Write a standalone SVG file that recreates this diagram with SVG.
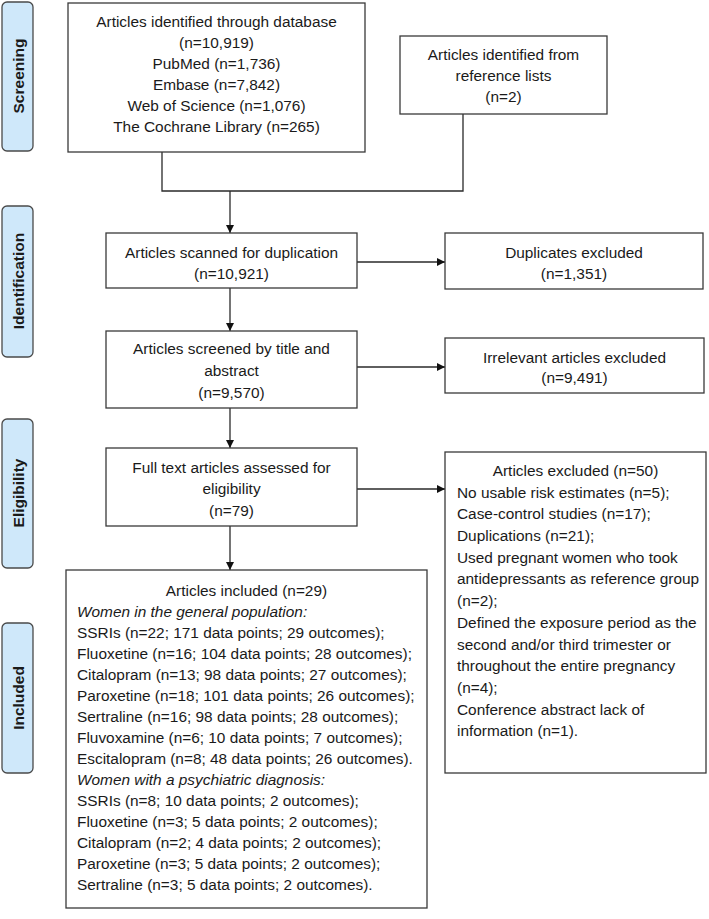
<svg xmlns="http://www.w3.org/2000/svg" width="709" height="919" viewBox="0 0 709 919">
<defs>
<style>
.bg{fill:#ffffff}
.box{fill:#ffffff;stroke:#3a3a3a;stroke-width:1.3}
.side{fill:#cfe8fa;stroke:#4a4a4a;stroke-width:1.3}
.st{font-family:"Liberation Sans",Arial,sans-serif;font-weight:bold;font-size:15.5px;fill:#1a1a1a;text-anchor:middle;dominant-baseline:central}
.t{font-family:"Liberation Sans",Arial,sans-serif;font-size:15.4px;fill:#1a1a1a;dominant-baseline:central}
.c{text-anchor:middle}
.i{font-style:italic}
.ln{fill:none;stroke:#2a2a2a;stroke-width:1.3}
</style>
<marker id="ah" viewBox="0 0 10 10" refX="10" refY="5" markerWidth="8" markerHeight="8" markerUnits="userSpaceOnUse" orient="auto">
<path d="M0,0 L10,5 L0,10 z" fill="#111"/>
</marker>
</defs>
<rect class="bg" x="0" y="0" width="709" height="919"/>

<g id="phase-screening">
<rect class="side" x="2" y="2" width="31" height="149" rx="5"/>
<text class="st" transform="translate(18,76) rotate(-90)">Screening</text>
</g>
<g id="phase-identification">
<rect class="side" x="2" y="206" width="31" height="151" rx="5"/>
<text class="st" transform="translate(18,281) rotate(-90)">Identification</text>
</g>
<g id="phase-eligibility">
<rect class="side" x="2" y="419" width="31" height="149" rx="5"/>
<text class="st" transform="translate(18,493) rotate(-90)">Eligibility</text>
</g>
<g id="phase-included">
<rect class="side" x="2" y="623" width="31" height="150" rx="5"/>
<text class="st" transform="translate(18,698) rotate(-90)">Included</text>
</g>

<g id="connectors">
<polyline class="ln" points="162,152 162,191 463,191 463,114"/>
<line class="ln" x1="230" y1="191" x2="230" y2="233" marker-end="url(#ah)"/>
<line class="ln" x1="230" y1="288" x2="230" y2="331" marker-end="url(#ah)"/>
<line class="ln" x1="357" y1="262" x2="445" y2="262" marker-end="url(#ah)"/>
<line class="ln" x1="357" y1="367" x2="445" y2="367" marker-end="url(#ah)"/>
<line class="ln" x1="230" y1="408" x2="230" y2="448" marker-end="url(#ah)"/>
<line class="ln" x1="357" y1="489" x2="445" y2="489" marker-end="url(#ah)"/>
<line class="ln" x1="230" y1="526" x2="230" y2="570" marker-end="url(#ah)"/>
</g>

<g id="db-search">
<rect class="box" x="68" y="3" width="297" height="149"/>
<text class="t c" x="216.5" y="21">Articles identified through database</text>
<text class="t c" x="216.5" y="42">(n=10,919)</text>
<text class="t c" x="216.5" y="63">PubMed (n=1,736)</text>
<text class="t c" x="216.5" y="84">Embase (n=7,842)</text>
<text class="t c" x="216.5" y="105">Web of Science (n=1,076)</text>
<text class="t c" x="216.5" y="126">The Cochrane Library (n=265)</text>
</g>

<g id="ref-lists">
<rect class="box" x="400" y="36" width="207" height="78"/>
<text class="t c" x="503.5" y="54">Articles identified from</text>
<text class="t c" x="503.5" y="75">reference lists</text>
<text class="t c" x="503.5" y="96">(n=2)</text>
</g>

<g id="scanned">
<rect class="box" x="106" y="233" width="251" height="55"/>
<text class="t c" x="231.5" y="252">Articles scanned for duplication</text>
<text class="t c" x="231.5" y="273">(n=10,921)</text>
</g>

<g id="duplicates">
<rect class="box" x="445" y="233" width="258" height="56"/>
<text class="t c" x="574" y="252">Duplicates excluded</text>
<text class="t c" x="574" y="273">(n=1,351)</text>
</g>

<g id="screened">
<rect class="box" x="106" y="331" width="251" height="77"/>
<text class="t c" x="231.5" y="348">Articles screened by title and</text>
<text class="t c" x="231.5" y="370">abstract</text>
<text class="t c" x="231.5" y="392">(n=9,570)</text>
</g>

<g id="irrelevant">
<rect class="box" x="445" y="338" width="259" height="55"/>
<text class="t c" x="574.5" y="357">Irrelevant articles excluded</text>
<text class="t c" x="574.5" y="377">(n=9,491)</text>
</g>

<g id="fulltext">
<rect class="box" x="106" y="448" width="251" height="78"/>
<text class="t c" x="231.5" y="467">Full text articles assessed for</text>
<text class="t c" x="231.5" y="488">eligibility</text>
<text class="t c" x="231.5" y="510">(n=79)</text>
</g>

<g id="excluded">
<rect class="box" x="445" y="452" width="261" height="321"/>
<text class="t c" x="575.5" y="470">Articles excluded (n=50)</text>
<text class="t" x="457" y="492">No usable risk estimates (n=5);</text>
<text class="t" x="457" y="513">Case-control studies (n=17);</text>
<text class="t" x="457" y="535">Duplications (n=21);</text>
<text class="t" x="457" y="557">Used pregnant women who took</text>
<text class="t" x="457" y="578">antidepressants as reference group</text>
<text class="t" x="457" y="600">(n=2);</text>
<text class="t" x="457" y="622">Defined the exposure period as the</text>
<text class="t" x="457" y="644">second and/or third trimester or</text>
<text class="t" x="457" y="665">throughout the entire pregnancy</text>
<text class="t" x="457" y="687">(n=4);</text>
<text class="t" x="457" y="709">Conference abstract lack of</text>
<text class="t" x="457" y="730">information (n=1).</text>
</g>

<g id="included">
<rect class="box" x="66" y="570" width="361" height="338"/>
<text class="t c" x="246.5" y="590">Articles included (n=29)</text>
<text class="t i" x="77" y="611">Women in the general population:</text>
<text class="t" x="77" y="632">SSRIs (n=22; 171 data points; 29 outcomes);</text>
<text class="t" x="77" y="653">Fluoxetine (n=16; 104 data points; 28 outcomes);</text>
<text class="t" x="77" y="674">Citalopram (n=13; 98 data points; 27 outcomes);</text>
<text class="t" x="77" y="695">Paroxetine (n=18; 101 data points; 26 outcomes);</text>
<text class="t" x="77" y="716">Sertraline (n=16; 98 data points; 28 outcomes);</text>
<text class="t" x="77" y="737">Fluvoxamine (n=6; 10 data points; 7 outcomes);</text>
<text class="t" x="77" y="758">Escitalopram (n=8; 48 data points; 26 outcomes).</text>
<text class="t i" x="77" y="779">Women with a psychiatric diagnosis:</text>
<text class="t" x="77" y="800">SSRIs (n=8; 10 data points; 2 outcomes);</text>
<text class="t" x="77" y="821">Fluoxetine (n=3; 5 data points; 2 outcomes);</text>
<text class="t" x="77" y="842">Citalopram (n=2; 4 data points; 2 outcomes);</text>
<text class="t" x="77" y="863">Paroxetine (n=3; 5 data points; 2 outcomes);</text>
<text class="t" x="77" y="884">Sertraline (n=3; 5 data points; 2 outcomes).</text>
</g>
</svg>
